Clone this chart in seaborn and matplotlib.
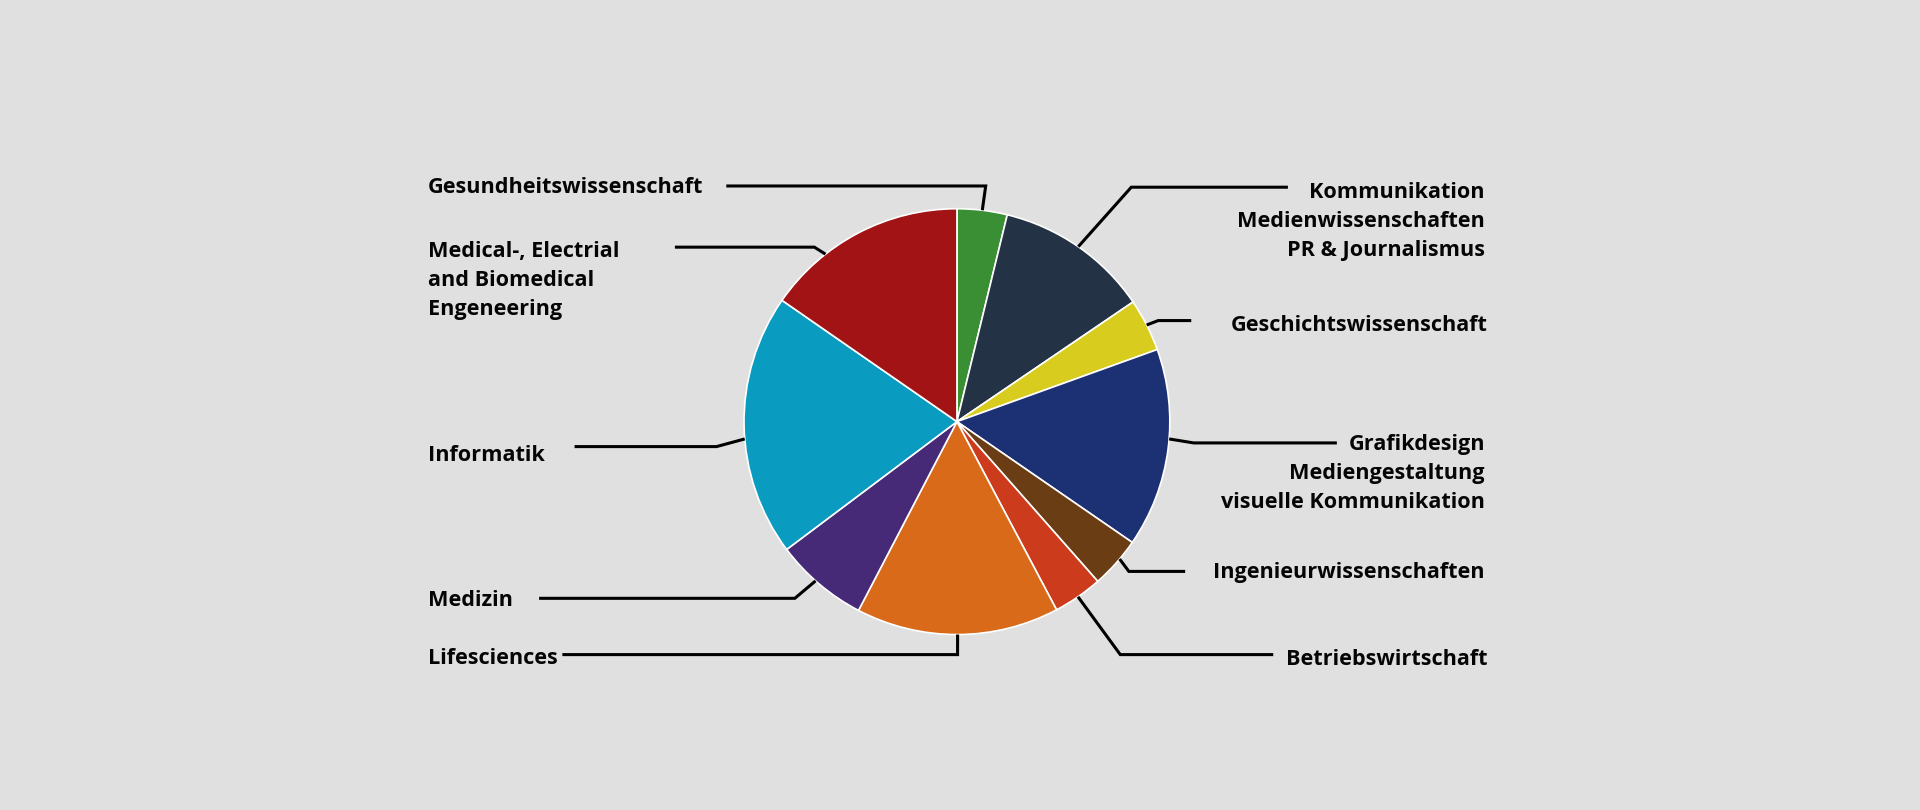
import matplotlib
matplotlib.use("Agg")
import matplotlib.pyplot as plt
import seaborn as sns
import numpy as np

sns.set_theme(style="white")
plt.rcParams['font.family'] = ['Open Sans', 'DejaVu Sans']

# ---- data ----
categories = [
    "Gesundheitswissenschaft",
    "Kommunikation\nMedienwissenschaften\nPR & Journalismus",
    "Geschichtswissenschaft",
    "Grafikdesign\nMediengestaltung\nvisuelle Kommunikation",
    "Ingenieurwissenschaften",
    "Betriebswirtschaft",
    "Lifesciences",
    "Medizin",
    "Informatik",
    "Medical-, Electrial\nand Biomedical\nEngeneering",
]
shares = [3.8, 11.7, 4.0, 15.1, 3.9, 3.75, 15.4, 7.1, 19.9, 15.35]
colors = ["#3a8f35", "#243245", "#d8cd1e", "#1c3074", "#6b3d14",
          "#cc3b1c", "#d86a1a", "#462a78", "#0a9bc0", "#a11315"]

# ---- layout (reference pixel space, y measured from top) ----
W, H = 1568, 662
CX, CY, R = 781.5, 344.6, 174
anchor_frac = [0.5, 0.5, 0.5, 0.45, 0.4, 0.5, 0.5, 0.55, 0.45, 0.31]
elbows = [(805, 152), (924, 153), (946, 262), (975, 362), (922, 467),
          (915, 535), (782, 535), (649, 489), (585, 365), (665, 202)]
ends = [593, 1052, 973, 1092, 968, 1040, 459, 440, 469, 551]
text_pos = [(349, 153, 'left'), (1213, 181, 'right'), (1215, 266, 'right'),
            (1213, 387, 'right'), (1213, 468, 'right'), (1215, 539, 'right'),
            (349, 538, 'left'), (349, 491, 'left'), (349, 372, 'left'),
            (349, 229, 'left')]

bg = "#e0e0e0"
fig = plt.figure(figsize=(19.2, 8.1), dpi=100, facecolor=bg)
ax = fig.add_axes([0, 0, 1, 1])
ax.set_facecolor(bg)

wedges, _ = ax.pie(shares, colors=colors, startangle=90, counterclock=False,
                   center=(CX, H - CY), radius=R, frame=True,
                   wedgeprops=dict(edgecolor="white", linewidth=1.2))
ax.set_xlim(0, W)
ax.set_ylim(0, H)
ax.set_aspect('equal')
ax.axis('off')

for i, w in enumerate(wedges):
    start, end = w.theta2, w.theta1
    ang = np.deg2rad(start + (end - start) * anchor_frac[i])
    ax_x = CX + R * np.cos(ang)
    ax_y = (H - CY) + R * np.sin(ang)
    ex, ey = elbows[i]
    ax.plot([ax_x, ex, ends[i]], [ax_y, H - ey, H - ey],
            color="black", lw=2.2, solid_capstyle='butt',
            solid_joinstyle='miter', zorder=1)
    tx, ty, side = text_pos[i]
    ax.text(tx, H - ty, categories[i], ha=side, va='center',
            multialignment=side, fontsize=15.6, fontweight='bold',
            color="#050505", linespacing=1.5)

fig.savefig("out.png", dpi=100, facecolor=bg)
